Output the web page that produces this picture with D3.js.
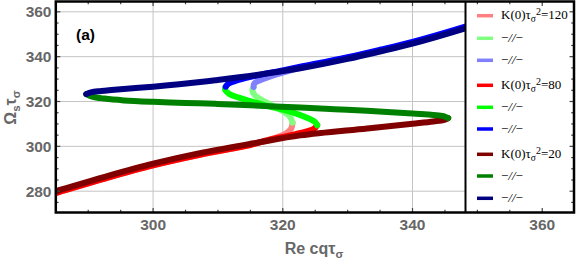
<!DOCTYPE html>
<html><head><meta charset="utf-8">
<script src="https://cdn.jsdelivr.net/npm/d3@7"></script>
<style>body{margin:0;background:#fff;} svg{display:block}</style>
</head><body>
<svg id="c" width="576" height="261"></svg>
<script>
// ---- data ----
const xTicks = [300, 320, 340, 360];
const yTicks = [280, 300, 320, 340, 360];
const kValues = [120, 80, 20];

const k120Lower = [[284,278.4],[285,279.2],[292.4,285.5],[300,291.5],[307.2,296.2],[312,298.9],[315.7,301.2],[318.3,303.3],[320.4,305.6],[321.3,307.9],[321.5,310.6]];
const k120Middle = [[321.5,310.6],[321.3,312.2],[320.9,313.9],[319.3,316.9],[317.3,319.8],[315.7,322.8],[315.3,325.0],[315.5,326.5]];
const k120Upper = [[315.5,326.5],[315.6,328.0],[316.5,329.5],[318.3,331.4],[320,332.9],[322.7,335.0],[330,339.5],[335,342.8],[340,346.3],[348,353.0],[355,359.5],[362,366.5]];

const k80Lower = [[284,278.4],[285,279.2],[292.4,285.5],[300,291.5],[307.2,296.2],[312,298.9],[315,300.6],[317.3,302.5],[320.9,304.8],[323.4,306.4],[324.8,307.8],[325.3,309.4]];
const k80Middle = [[325.3,309.4],[325.0,310.8],[324.0,312.4],[321.4,315.3],[317.3,318.3],[313.7,321.3],[311.7,323.5],[311.1,325.3],[311.2,326.6]];
const k80Upper = [[311.2,326.6],[311.6,327.9],[312.5,329.0],[314.2,330.4],[316.5,331.9],[320,333.9],[322.7,335.5],[330,339.8],[335,343.1],[340,346.6],[348,353.3],[355,359.8],[362,366.8]];

const k20Lower = [[284,279.2],[285,280.0],[292.4,286.3],[300,292.3],[307.2,297.0],[316,301.6],[322.7,304.9],[333,308.0],[340,310.1],[343.2,311.1],[344.9,311.8],[345.5,312.6]];
const k20Middle = [[345.5,312.6],[344.8,313.5],[343.2,314.0],[340,314.6],[333,315.9],[328,316.6],[322.7,317.3],[315,318.3],[309.6,318.95],[305,319.35],[300,319.85],[295.5,320.5],[292.5,321.3],[290.6,322.2],[289.7,323.3]];
const k20Upper = [[289.7,323.3],[290.4,324.1],[292,324.7],[295,325.5],[300,326.6],[304,327.7],[309.6,329.5],[315.7,331.7],[322.7,334.8],[330,339.0],[335,342.3],[340,345.8],[348,352.5],[355,359.0],[362,366.0]];

const series = [k120Lower, k120Middle, k120Upper, k80Lower, k80Middle, k80Upper, k20Lower, k20Middle, k20Upper];
const seriesColors = ["#ff8080","#80ff80","#8080ff","#ff0000","#00ff00","#0000ff","#800000","#008000","#000080"];

// ---- layout ----
const svg = d3.select("#c");
const L = 55.8, R = 574.0, T = 1.5, B = 212.5;
const x = d3.scaleLinear().domain([285, 364.9]).range([L, R]);
const y = d3.scaleLinear().domain([270.5, 364.6]).range([B, T]);

svg.append("defs").append("clipPath").attr("id","clip")
  .append("rect").attr("x",L).attr("y",T).attr("width",R-L).attr("height",B-T);

// grid
const grid = svg.append("g").attr("stroke","#c4c4c4").attr("stroke-width",1);
xTicks.forEach(v => grid.append("line").attr("x1",x(v)).attr("x2",x(v)).attr("y1",T).attr("y2",B));
yTicks.forEach(v => grid.append("line").attr("y1",y(v)).attr("y2",y(v)).attr("x1",L).attr("x2",R));

// curves
const line = d3.line().x(d => x(d[0])).y(d => y(d[1])).curve(d3.curveCatmullRom.alpha(0.5));
const cg = svg.append("g").attr("clip-path","url(#clip)");
series.forEach((s,i) => {
  cg.append("path").attr("d", line(s)).attr("fill","none")
    .attr("stroke", seriesColors[i]).attr("stroke-width", 6)
    .attr("stroke-linecap","round").attr("stroke-linejoin","round");
});

// legend
const LX = 466;
const lg = svg.append("g");
lg.append("rect").attr("x",LX).attr("y",T).attr("width",R-LX).attr("height",B-T).attr("fill","#fff");
lg.append("line").attr("x1",LX-0.5).attr("x2",LX-0.5).attr("y1",T).attr("y2",B).attr("stroke","#000").attr("stroke-width",2);
const rowY = [15.7, 38.3, 60.3, 85.3, 107.3, 129, 154.3, 176, 198.3];
series.forEach((s,i) => {
  const ry = rowY[i];
  lg.append("line").attr("x1",477).attr("x2",493).attr("y1",ry).attr("y2",ry)
    .attr("stroke",seriesColors[i]).attr("stroke-width",3.5);
  const t = lg.append("text").attr("x",501).attr("y",ry+3.6)
    .attr("font-family","'Liberation Serif', 'Times New Roman', serif").attr("font-size",13).attr("fill","#000");
  if (i % 3 === 0) {
    t.append("tspan").text("K(0)τ");
    t.append("tspan").attr("dy",2.8).attr("font-size",9.5).text("σ");
    t.append("tspan").attr("dy",-7.2).attr("font-size",10).text("2");
    t.append("tspan").attr("dy",4.4).text("=" + kValues[i/3]);
  } else {
    t.append("tspan").text("−");
    t.append("tspan").attr("font-style","italic").text("//");
    t.append("tspan").text("−");
  }
});

// frame + ticks
const fr = svg.append("g");
const tickCol = "#444";
function xMinor(){ const a=[]; for(let v=285; v<=365; v+=5) a.push(v); return a; }
function yMinor(){ const a=[]; for(let v=275; v<=364; v+=5) a.push(v); return a; }
xMinor().forEach(v => {
  const major = xTicks.includes(v);
  const len = major ? 4.5 : 2.8;
  if (x(v) < L || x(v) > R) return;
  fr.append("line").attr("x1",x(v)).attr("x2",x(v)).attr("y1",B).attr("y2",B-len).attr("stroke",tickCol).attr("stroke-width",1.2);
  fr.append("line").attr("x1",x(v)).attr("x2",x(v)).attr("y1",T).attr("y2",T+len).attr("stroke",tickCol).attr("stroke-width",1.2);
});
yMinor().forEach(v => {
  const major = yTicks.includes(v);
  const len = major ? 4.5 : 2.8;
  if (y(v) < T || y(v) > B) return;
  fr.append("line").attr("x1",L).attr("x2",L+len).attr("y1",y(v)).attr("y2",y(v)).attr("stroke",tickCol).attr("stroke-width",1.2);
  fr.append("line").attr("x1",R).attr("x2",R-len).attr("y1",y(v)).attr("y2",y(v)).attr("stroke",tickCol).attr("stroke-width",1.2);
});
fr.append("rect").attr("x",L).attr("y",T).attr("width",R-L).attr("height",B-T)
  .attr("fill","none").attr("stroke","#000").attr("stroke-width",2.5);

// tick labels
const lblFont = "'Liberation Sans', Arial, sans-serif";
const labCol = "#676767";
xTicks.forEach(v => svg.append("text").attr("x",x(v)).attr("y",230).attr("text-anchor","middle")
  .attr("font-family",lblFont).attr("font-weight","bold").attr("font-size",15.5).attr("fill",labCol).text(v));
yTicks.forEach(v => svg.append("text").attr("x",51.5).attr("y",y(v)+5.5).attr("text-anchor","end")
  .attr("font-family",lblFont).attr("font-weight","bold").attr("font-size",15.5).attr("fill",labCol).text(v));

// axis titles
const xt = svg.append("text").attr("x",314).attr("y",254).attr("text-anchor","middle")
  .attr("font-family",lblFont).attr("font-weight","bold").attr("font-size",16).attr("fill",labCol);
xt.append("tspan").text("Re cqτ");
xt.append("tspan").attr("dy",4).attr("font-size",11.5).text("σ");

const yt = svg.append("text").attr("transform","translate(16,107.5) rotate(-90)").attr("text-anchor","middle")
  .attr("font-family",lblFont).attr("font-weight","bold").attr("font-size",16).attr("fill",labCol);
yt.append("tspan").text("Ω");
yt.append("tspan").attr("dy",4).attr("font-size",11.5).text("s");
yt.append("tspan").attr("dy",-4).text("τ");
yt.append("tspan").attr("dy",4).attr("font-size",11.5).text("σ");

// panel label
svg.append("text").attr("x",76).attr("y",39.5).attr("font-family",lblFont).attr("font-weight","bold")
  .attr("font-size",15.5).attr("fill","#000").text("(a)");
</script>
</body></html>
